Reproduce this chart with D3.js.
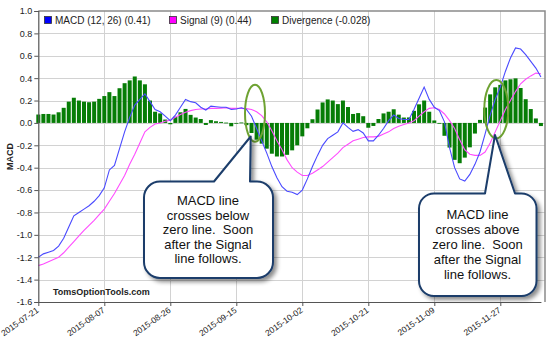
<!DOCTYPE html>
<html><head><meta charset="utf-8">
<script src="https://cdn.jsdelivr.net/npm/d3@7"></script>
<style>
html,body{margin:0;padding:0;background:#fff;}
svg{display:block;font-family:"Liberation Sans",Arial,sans-serif;}
</style></head><body>
<svg id="chart" width="550" height="338"></svg>
<script>
const dates = [
"2015-07-21","2015-07-22","2015-07-23","2015-07-24","2015-07-27","2015-07-28","2015-07-29","2015-07-30","2015-07-31",
"2015-08-03","2015-08-04","2015-08-05","2015-08-06","2015-08-07","2015-08-10","2015-08-11","2015-08-12","2015-08-13","2015-08-14",
"2015-08-17","2015-08-18","2015-08-19","2015-08-20","2015-08-21","2015-08-24","2015-08-25","2015-08-26","2015-08-27","2015-08-28","2015-08-31",
"2015-09-01","2015-09-02","2015-09-03","2015-09-04","2015-09-08","2015-09-09","2015-09-10","2015-09-11","2015-09-14","2015-09-15",
"2015-09-16","2015-09-17","2015-09-18","2015-09-21","2015-09-22","2015-09-23","2015-09-24","2015-09-25","2015-09-28","2015-09-29","2015-09-30",
"2015-10-01","2015-10-02","2015-10-05","2015-10-06","2015-10-07","2015-10-08","2015-10-09","2015-10-12","2015-10-13","2015-10-14","2015-10-15","2015-10-16",
"2015-10-19","2015-10-20","2015-10-21","2015-10-22","2015-10-23","2015-10-26","2015-10-27","2015-10-28","2015-10-29","2015-10-30",
"2015-11-02","2015-11-03","2015-11-04","2015-11-05","2015-11-06","2015-11-09","2015-11-10","2015-11-11","2015-11-12","2015-11-13",
"2015-11-16","2015-11-17","2015-11-18","2015-11-19","2015-11-20","2015-11-23","2015-11-24","2015-11-25","2015-11-27","2015-11-30",
"2015-12-01","2015-12-02","2015-12-03","2015-12-04","2015-12-07","2015-12-08","2015-12-09"];

const macd = [
-1.20,-1.17,-1.155,-1.14,-1.10,-1.03,-0.93,-0.83,-0.80,-0.77,
-0.74,-0.70,-0.65,-0.58,-0.42,-0.38,-0.23,-0.08,0.05,0.16,
0.21,0.26,0.19,0.12,0.10,0.06,0.02,0.07,0.14,0.21,
0.19,0.18,0.14,0.115,0.15,0.145,0.14,0.14,0.12,0.125,
0.135,0.12,0.06,-0.05,-0.16,-0.27,-0.39,-0.49,-0.57,-0.61,
-0.62,-0.64,-0.60,-0.50,-0.39,-0.29,-0.20,-0.14,-0.11,-0.08,
0.00,-0.04,-0.075,-0.06,-0.09,-0.16,-0.16,-0.11,-0.05,0.02,
0.07,0.04,0.03,0.03,0.12,0.22,0.32,0.21,0.14,0.11,
0.01,-0.22,-0.40,-0.50,-0.52,-0.46,-0.37,-0.26,-0.10,0.07,
0.21,0.32,0.46,0.58,0.67,0.66,0.61,0.55,0.49,0.41];

const signal = [
-1.275,-1.26,-1.24,-1.22,-1.20,-1.16,-1.11,-1.06,-1.01,-0.96,
-0.915,-0.87,-0.82,-0.77,-0.70,-0.63,-0.55,-0.47,-0.37,-0.28,
-0.18,-0.08,-0.04,-0.01,0.00,0.015,0.025,0.05,0.075,0.095,
0.11,0.12,0.125,0.125,0.13,0.13,0.132,0.135,0.13,0.13,
0.13,0.128,0.12,0.10,0.065,0.01,-0.07,-0.16,-0.24,-0.33,
-0.40,-0.44,-0.47,-0.47,-0.45,-0.42,-0.39,-0.35,-0.31,-0.27,
-0.22,-0.19,-0.16,-0.145,-0.13,-0.125,-0.125,-0.12,-0.10,-0.08,
-0.05,-0.03,-0.015,0.00,0.02,0.06,0.10,0.13,0.135,0.12,
0.08,0.02,-0.05,-0.15,-0.24,-0.28,-0.29,-0.29,-0.26,-0.18,
-0.08,0.02,0.12,0.20,0.28,0.35,0.39,0.42,0.445,0.44];

const divergence = [
0.075,0.08,0.08,0.075,0.095,0.135,0.19,0.225,0.2,0.19,
0.185,0.19,0.215,0.24,0.275,0.24,0.31,0.355,0.38,0.415,
0.38,0.345,0.2,0.1,0.085,0.03,-0.012,0.055,0.095,0.125,
0.072,0.048,0.035,-0.018,0.025,0.015,0.009,0.003,-0.03,-0.004,
0.004,-0.02,-0.09,-0.15,-0.185,-0.23,-0.275,-0.3,-0.3,-0.285,
-0.245,-0.2,-0.12,-0.048,0.033,0.12,0.183,0.21,0.2,0.168,
0.2,0.142,0.08,0.088,0.06,-0.043,-0.027,0.035,0.085,0.1,
0.122,0.074,0.048,0.049,0.108,0.166,0.2,0.1,0.022,-0.006,
-0.115,-0.22,-0.33,-0.36,-0.31,-0.218,-0.095,0.027,0.137,0.255,
0.318,0.34,0.38,0.39,0.398,0.312,0.212,0.124,0.04,-0.028];

const yTicks = [1.0,0.8,0.6,0.4,0.2,0.0,-0.2,-0.4,-0.6,-0.8,-1.0,-1.2,-1.4,-1.6];
const xTickLabels = ["2015-07-21","2015-08-07","2015-08-26","2015-09-15","2015-10-02","2015-10-21","2015-11-09","2015-11-27"];
const legendLabels = ["MACD (12, 26) (0.41)","Signal (9) (0.44)","Divergence (-0.028)"];
const yTitle = "MACD";
const watermark = "TomsOptionTools.com";
const callout1Lines = ["MACD line","crosses below","zero line.  Soon","after the Signal","line follows."];
const callout2Lines = ["MACD line","crosses above","zero line.  Soon","after the Signal","line follows."];

// ---------- layout ----------
const L = 38.3, R = 545, T = 11, B = 302;
const svg = d3.select("#chart");
const x = d3.scalePoint().domain(dates).range([L, L + 99 * 5.077]);
const y = d3.scaleLinear().domain([-1.6, 1.0]).range([B, T]);

const defs = svg.append("defs");
const f = defs.append("filter").attr("id","shadow").attr("x","-20%").attr("y","-20%").attr("width","150%").attr("height","150%");
f.append("feDropShadow").attr("dx",3).attr("dy",3).attr("stdDeviation",2).attr("flood-color","#000").attr("flood-opacity",0.45);

// grid
const grid = svg.append("g");
grid.selectAll("line.h").data(yTicks.filter(d => d > -1.6 && d < 1.0)).join("line")
  .attr("x1", L).attr("x2", R).attr("y1", d => Math.round(y(d)) + 0.5).attr("y2", d => Math.round(y(d)) + 0.5)
  .attr("stroke", "#d2d2d2").attr("stroke-width", 1);
grid.selectAll("line.v").data(xTickLabels.slice(1)).join("line")
  .attr("y1", T).attr("y2", B).attr("x1", d => Math.round(x(d)) + 0.5).attr("x2", d => Math.round(x(d)) + 0.5)
  .attr("stroke", "#d2d2d2").attr("stroke-width", 1);

// frame
svg.append("path").attr("d", `M${L},${T}H${R}V${B}`).attr("fill","none").attr("stroke","#8a8a8a").attr("stroke-width",1.5);

// bars
svg.append("g").selectAll("rect").data(divergence).join("rect")
  .attr("x", (d,i) => x(dates[i]) - 2)
  .attr("width", 4)
  .attr("y", d => y(Math.max(0, d)))
  .attr("height", d => Math.max(0.8, Math.abs(y(d) - y(0))))
  .attr("fill", "#067d06");

// lines
const line = d3.line().x((d,i) => x(dates[i])).y(d => y(d));
svg.append("path").datum(signal).attr("d", line).attr("fill","none").attr("stroke","#ff4dff").attr("stroke-width",1.1);
svg.append("path").datum(macd).attr("d", line).attr("fill","none").attr("stroke","#4a4aff").attr("stroke-width",1.1);

// axes
const yAxis = svg.append("g").attr("transform", `translate(${L},0)`)
  .call(d3.axisLeft(y).tickValues(yTicks).tickFormat(d => d.toFixed(1)).tickSize(4).tickPadding(2));
yAxis.select(".domain").attr("stroke","#555").attr("stroke-width",1.2);
yAxis.selectAll(".tick line").attr("stroke","#555");
yAxis.selectAll("text").attr("font-size", 9).attr("fill","#222").style("font-family","Liberation Sans, Arial, sans-serif");

const xAxis = svg.append("g").attr("transform", `translate(0,${B})`)
  .call(d3.axisBottom(x).tickValues(xTickLabels).tickSize(4).tickSizeOuter(0));
xAxis.select(".domain").attr("stroke","#555").attr("stroke-width",1.2);
xAxis.selectAll(".tick line").attr("stroke","#555");
xAxis.selectAll("text").attr("font-size", 8.5).attr("fill","#222").style("font-family","Liberation Sans, Arial, sans-serif")
  .attr("text-anchor","end").attr("dy", null).attr("y", 0)
  .attr("transform","translate(0.5,9.5) rotate(-35)");

// y title
svg.append("text").attr("transform", `translate(12.5,${(T + B) / 2}) rotate(-90)`)
  .attr("text-anchor","middle").attr("font-size", 9).attr("font-weight","bold").attr("fill","#222").text(yTitle);

// watermark
svg.append("text").attr("x", 53).attr("y", 295).attr("font-size", 9).attr("font-weight","bold").attr("fill","#222").text(watermark);

// legend
const legColors = ["#0000ff","#ff00ff","#008000"];
const legX = [44.5, 169.5, 271.5];
const lg = svg.append("g");
legendLabels.forEach((t, i) => {
  lg.append("rect").attr("x", legX[i]).attr("y", 16.5).attr("width", 7).attr("height", 7)
    .attr("fill", legColors[i]).attr("stroke", "#333").attr("stroke-width", 0.8);
  lg.append("text").attr("x", legX[i] + 10.5).attr("y", 23.5).attr("font-size", 10).attr("fill", "#222").text(t);
});

// ellipses
const ell = [[255, 113.3, 10, 28.5], [496.3, 109.2, 12, 29.2]];
svg.append("g").selectAll("ellipse").data(ell).join("ellipse")
  .attr("cx", d => d[0]).attr("cy", d => d[1]).attr("rx", d => d[2]).attr("ry", d => d[3])
  .attr("fill","none").attr("stroke","#6ea232").attr("stroke-width",2);

// callouts
function calloutPath(x0, y0, x1, y1, r, p1, p2, tx, ty) {
  return `M${x0 + r},${y0} L${p1},${y0} L${tx},${ty} L${p2},${y0} L${x1 - r},${y0}` +
    ` A${r},${r} 0 0 1 ${x1},${y0 + r} L${x1},${y1 - r} A${r},${r} 0 0 1 ${x1 - r},${y1}` +
    ` L${x0 + r},${y1} A${r},${r} 0 0 1 ${x0},${y1 - r} L${x0},${y0 + r} A${r},${r} 0 0 1 ${x0 + r},${y0} Z`;
}
const callouts = [
  {box: [144, 181.5, 273, 278, 16, 214, 250, 250.7, 136.5], lines: callout1Lines, cx: 208, by: 205, step: 14.5},
  {box: [419, 193.5, 536.5, 296, 15, 485, 515, 495, 135], lines: callout2Lines, cx: 477.5, by: 219, step: 15}
];
callouts.forEach(c => {
  const g = svg.append("g");
  g.append("path").attr("d", calloutPath(...c.box)).attr("fill","#fff").attr("stroke","#1b3d6b")
    .attr("stroke-width", 2).attr("stroke-linejoin","round").attr("filter","url(#shadow)");
  g.selectAll("text").data(c.lines).join("text")
    .attr("x", c.cx).attr("y", (d,i) => c.by + i * c.step)
    .attr("text-anchor","middle").attr("font-size", 13).attr("fill","#111")
    .style("white-space","pre").text(d => d);
});
</script>
</body></html>
